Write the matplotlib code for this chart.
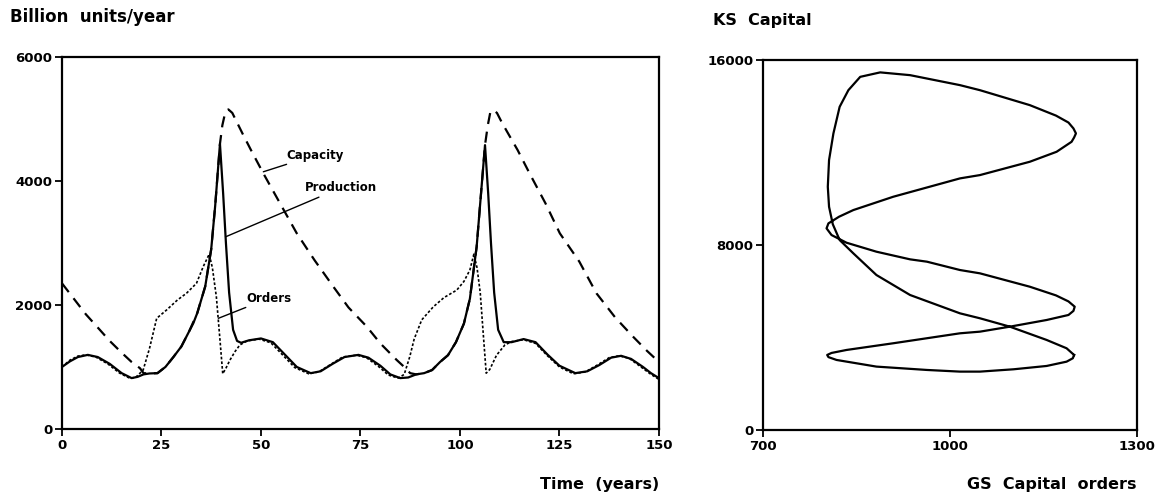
import matplotlib
matplotlib.use("Agg")
import matplotlib.pyplot as plt

# Left panel: time series (years, billion units/year)
prod_t = [0, 2, 4, 6.5, 9, 12, 15, 17.5, 19, 20.5, 22, 24, 26, 28, 30, 32, 33, 34, 36, 37.5,
          38.5, 39.7, 40.5, 41.2, 42, 43, 44, 45, 47, 50, 53, 56, 59, 62.5, 65, 68, 71, 74.5,
          77, 80, 82.5, 85, 87, 89, 91, 93, 95, 97, 99, 101, 102.5, 104.2, 105.3, 106.3,
          107.1, 107.8, 108.6, 109.6, 111, 113, 116, 119, 122, 125, 129, 132, 135, 138, 140.5,
          143, 146, 148, 150]
prod_v = [1000, 1090, 1160, 1195, 1160, 1050, 900, 820, 840, 880, 895, 900, 1000, 1160, 1330,
          1580, 1705, 1870, 2300, 2900, 3600, 4600, 3800, 3000, 2200, 1600, 1420, 1390, 1430,
          1460, 1400, 1200, 1000, 900, 930, 1050, 1160, 1195, 1150, 1020, 880, 820, 830, 880,
          900, 950, 1080, 1190, 1400, 1700, 2100, 2940, 3800, 4580, 3800, 3000, 2200, 1600,
          1400, 1400, 1450, 1400, 1200, 1020, 900, 930, 1030, 1150, 1180, 1130, 1000, 900, 820]

orders_t = [0, 2, 4, 6, 8.5, 11.5, 14.5, 17, 18.5, 20.4, 22, 23.8, 26.3, 29, 31.3, 33.8, 35.5,
            37, 37.8, 38.8, 39.7, 40.4, 41.2, 42.2, 43.5, 44.7, 46.5, 49.5, 52.5, 55.5, 58.5,
            62, 64.5, 67.5, 70.5, 74, 76.5, 79.5, 82, 84.5, 86, 87.4, 88.5, 90.4, 93.3, 96,
            99.2, 101, 102.5, 103.5, 104.3, 105.1, 105.9, 106.6, 107.5, 109.2, 111.3, 113, 116,
            119, 122, 125, 128.5, 131.5, 134.5, 137.5, 140, 142.5, 145.5, 148, 150]
orders_v = [1000, 1110, 1175, 1195, 1160, 1050, 900, 820, 830, 950, 1300, 1785, 1920, 2080,
            2190, 2350, 2620, 2820, 2600, 2130, 1440, 890, 980, 1110, 1250, 1355, 1420, 1450,
            1390, 1190, 990, 890, 920, 1040, 1160, 1190, 1150, 1010, 870, 820, 880, 1166, 1450,
            1760, 1970, 2120, 2240, 2380, 2565, 2820, 2600, 2200, 1500, 900, 960, 1190, 1355,
            1410, 1440, 1380, 1180, 1000, 890, 920, 1030, 1150, 1180, 1140, 1000, 880, 800]

cap_t = [0, 3, 6, 9.5, 12, 15, 17.5, 19.6, 20.5, 22, 24, 26, 28, 30, 32, 34, 36, 37.5, 38.5,
         39.7, 40.3, 41, 41.8, 42.8, 43.9, 45.5, 47.5, 50.6, 54.8, 59, 63.5, 68.2, 72, 76.6,
         80, 84.1, 86, 87.5, 89, 91, 93, 95, 97, 99, 101, 102.5, 104.2, 105.3, 106.3, 107,
         107.6, 108.3, 109.3, 110.5, 112, 114.5, 117.5, 121.5, 125.1, 130, 134.3, 139, 143.5,
         147, 150]
cap_v = [2350, 2100, 1850, 1600, 1420, 1230, 1080, 980, 900, 895, 900, 1000, 1160, 1330, 1580,
         1870, 2300, 2900, 3600, 4600, 4900, 5100, 5157, 5100, 4957, 4750, 4500, 4124, 3640,
         3157, 2720, 2295, 1960, 1650, 1380, 1113, 1000, 900, 880, 900, 950, 1080, 1190, 1400,
         1700, 2100, 2940, 3800, 4580, 4900, 5100, 5150, 5100, 4950, 4780, 4500, 4124, 3640,
         3157, 2700, 2189, 1800, 1489, 1260, 1080]

# Right panel: phase plot (GS capital orders vs KS capital)
gs_orders = [1199, 1187, 1155, 1096, 1048, 1016, 936, 882, 845, 823, 812, 806, 804, 806, 813,
             823, 837, 856, 888, 936, 1016, 1048, 1128, 1170, 1190, 1198, 1202, 1199, 1195,
             1171, 1128, 1048, 1016, 909, 845, 822, 805, 802, 810, 834, 882, 936, 963, 1016,
             1048, 1128, 1170, 1190, 1200, 1198, 1190, 1155, 1096, 1048, 1016, 909, 834, 810,
             803, 805, 818, 882, 963, 1016, 1048, 1102, 1155, 1187, 1197, 1199]
ks_capital = [3243, 3532, 3892, 4467, 4830, 5044, 5837, 6702, 7639, 8216, 8900, 9656, 10520,
              11675, 12829, 13980, 14700, 15277, 15470, 15350, 14918, 14700, 14053, 13600,
              13300, 13045, 12829, 12650, 12467, 12035, 11603, 11026, 10883, 10089, 9513, 9224,
              8937, 8721, 8432, 8100, 7711, 7380, 7279, 6918, 6775, 6196, 5820, 5560, 5332,
              5150, 4973, 4756, 4467, 4251, 4180, 3749, 3459, 3330, 3243, 3150, 3027, 2739,
              2594, 2522, 2522, 2623, 2767, 2953, 3100, 3243]

plt.rcParams['font.family'] = ['DejaVu Sans']
plt.rcParams['font.weight'] = 'bold'

fig = plt.figure(figsize=(11.56, 4.97), dpi=100)
ax1 = fig.add_axes([0.0536, 0.137, 0.5164, 0.748])
ax2 = fig.add_axes([0.660, 0.135, 0.3236, 0.744])

lw = 1.6
ax1.plot(cap_t, cap_v, color='black', lw=lw, dashes=(5, 3.5))
ax1.plot(orders_t, orders_v, color='black', lw=1.2, dashes=(1.6, 1.2))
ax1.plot(prod_t, prod_v, color='black', lw=lw)

ax1.set_xlim(0, 150)
ax1.set_ylim(0, 6000)
ax1.set_xticks([0, 25, 50, 75, 100, 125, 150])
ax1.set_yticks([0, 2000, 4000, 6000])

line_kw = dict(arrowstyle='-', color='black', lw=1.0, shrinkA=0, shrinkB=0)
ax1.annotate('Capacity', xy=(50.6, 4150), xytext=(56.5, 4420), fontsize=8.5,
             fontweight='bold', va='center', arrowprops=line_kw)
ax1.annotate('Production', xy=(41.1, 3100), xytext=(61.0, 3890), fontsize=8.5,
             fontweight='bold', va='center', arrowprops=line_kw)
ax1.annotate('Orders', xy=(39.3, 1785), xytext=(46.4, 2110), fontsize=8.5,
             fontweight='bold', va='center', arrowprops=line_kw)

ax2.plot(gs_orders, ks_capital, color='black', lw=lw, solid_joinstyle='round')
ax2.set_xlim(700, 1300)
ax2.set_ylim(0, 16000)
ax2.set_xticks([700, 1000, 1300])
ax2.set_yticks([0, 8000, 16000])

for ax in (ax1, ax2):
    for s in ax.spines.values():
        s.set_linewidth(1.6)
    ax.tick_params(direction='out', length=5, width=1.3, labelsize=9.5, pad=2)
    for lab in ax.get_xticklabels() + ax.get_yticklabels():
        lab.set_fontweight('bold')

fig.text(0.009, 0.965, 'Billion  units/year', fontsize=12, fontweight='bold', va='center')
fig.text(0.570, 0.025, 'Time  (years)', fontsize=11.5, fontweight='bold', ha='right', va='center')
fig.text(0.617, 0.958, 'KS  Capital', fontsize=11.5, fontweight='bold', va='center')
fig.text(0.983, 0.025, 'GS  Capital  orders', fontsize=11.5, fontweight='bold', ha='right', va='center')

fig.savefig('out.png', dpi=100)
